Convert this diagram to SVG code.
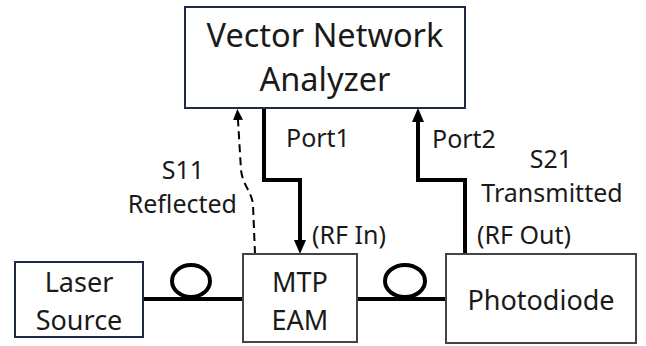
<svg xmlns="http://www.w3.org/2000/svg" width="646" height="346" viewBox="0 0 646 346">
<style>
text{font-family:"Noto Sans","Open Sans","Liberation Sans",sans-serif;fill:#1a1a1a}
.big{font-size:32.5px}
.mid{font-size:27px}
.lbl{font-size:25px}
.navy{fill:#fff;stroke:#1f2a48;stroke-width:2}
.gray{fill:#fff;stroke:#444;stroke-width:2}
.thick{fill:none;stroke:#000;stroke-width:4}
.fiber{fill:none;stroke:#000;stroke-width:4}
.dash{fill:none;stroke:#000;stroke-width:2;stroke-dasharray:8 5}
</style>
<defs>
<marker id="ah" viewBox="0 0 14 12" refX="0" refY="6" markerWidth="14" markerHeight="12" markerUnits="userSpaceOnUse" orient="auto"><path d="M0,0 L14,6 L0,12 z" fill="#000"/></marker>
<marker id="ahs" viewBox="0 0 11 10" refX="0" refY="5" markerWidth="11" markerHeight="10" markerUnits="userSpaceOnUse" orient="auto"><path d="M0,0 L11,5 L0,10 z" fill="#000"/></marker>
</defs>
<g id="connectors">
<path class="thick" d="M264,108 V180 H300 V240" marker-end="url(#ah)"/>
<path class="thick" d="M465,254 V180 H418 V122" marker-end="url(#ah)"/>
<path class="dash" d="M255,254 L253,205 C252,192 243,186 241,170 L238,120" marker-end="url(#ahs)"/>
<path class="fiber" d="M143,299 H243"/>
<ellipse class="fiber" cx="191" cy="281" rx="19" ry="16"/>
<path class="fiber" d="M357,299 H446"/>
<ellipse class="fiber" cx="405" cy="281" rx="20" ry="16"/>
</g>
<g id="labels">
<text class="lbl" x="286" y="147">Port1</text>
<text class="lbl" x="312" y="244">(RF In)</text>
<text class="lbl" x="432" y="148">Port2</text>
<text class="lbl" x="477" y="244">(RF Out)</text>
<text class="lbl" x="551" y="168" text-anchor="middle">S21</text>
<text class="lbl" x="552" y="202" text-anchor="middle">Transmitted</text>
<text class="lbl" x="183" y="179" text-anchor="middle">S11</text>
<text class="lbl" x="237" y="213" text-anchor="end">Reflected</text>
</g>
<g id="vna">
<rect class="navy" x="185" y="7" width="280" height="101"/>
<text class="big" x="325" y="47" text-anchor="middle">Vector Network</text>
<text class="big" x="325" y="91" text-anchor="middle">Analyzer</text>
</g>
<g id="laser">
<rect class="navy" x="15" y="262" width="128" height="75"/>
<text class="mid" x="79" y="292" text-anchor="middle">Laser</text>
<text class="mid" x="79" y="330" text-anchor="middle">Source</text>
</g>
<g id="mtp">
<rect class="gray" x="243" y="254" width="114" height="88"/>
<text class="mid" x="300" y="292" text-anchor="middle">MTP</text>
<text class="mid" x="300" y="330" text-anchor="middle">EAM</text>
</g>
<g id="photodiode">
<rect class="gray" x="446" y="254" width="190" height="89"/>
<text class="mid" x="541" y="310" text-anchor="middle">Photodiode</text>
</g>
</svg>
